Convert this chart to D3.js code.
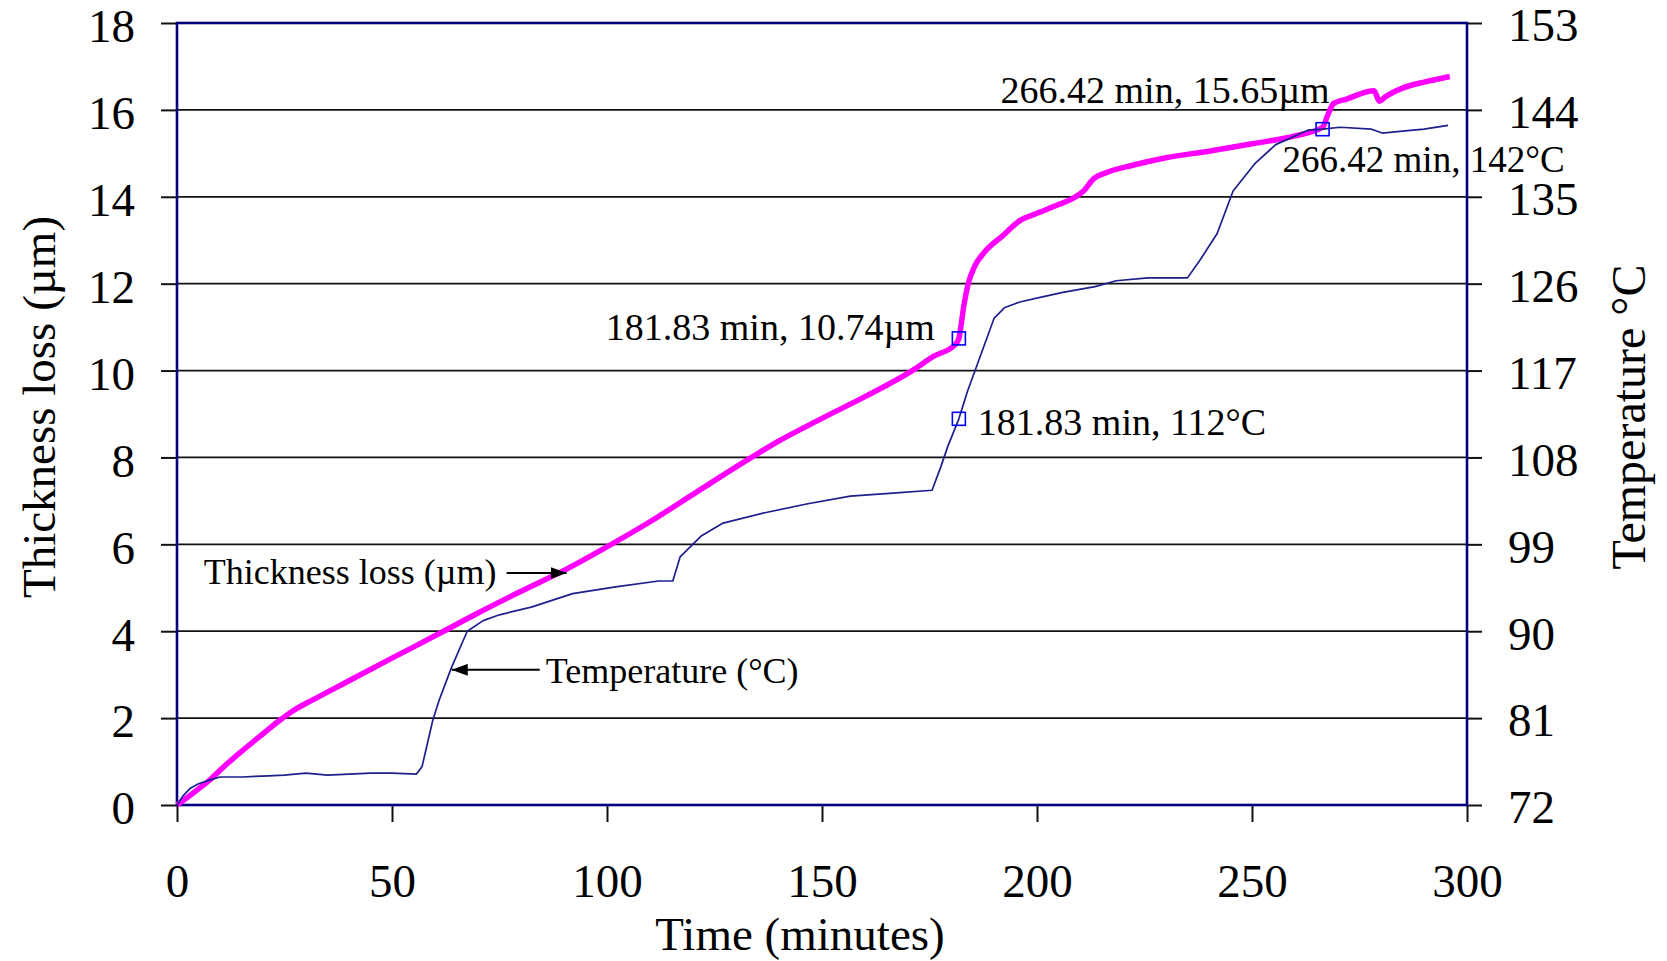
<!DOCTYPE html>
<html>
<head>
<meta charset="utf-8">
<script src="https://cdn.jsdelivr.net/npm/d3@7/dist/d3.min.js"></script>
<style>
  body { margin: 0; background: #fff; }
  svg text { font-family: "Liberation Serif", "Times New Roman", serif; fill: #000; }
</style>
</head>
<body>
<div id="content"></div>
<script>
(function(){

  //////////////////////////////////////////////////////////////
  //////////////////////// data ////////////////////////////////
  //////////////////////////////////////////////////////////////

  // thickness loss (um) vs time (min)
  var thickTime = [0, 3, 5, 7.7, 10, 14.6, 20, 23.9, 27, 31.6, 40, 50, 62, 70, 80, 90, 101, 110, 120,
                   133.6, 140, 150, 160, 171, 176, 181, 181.83, 183, 184, 185.5, 188, 192, 196, 200,
                   205, 209, 211, 213, 216, 222, 230, 240, 250, 260, 266.42, 267.5, 269, 272, 278.4,
                   279.6, 281, 285, 290, 296];
  var thickLoss = [0, 0.22, 0.37, 0.58, 0.8, 1.2, 1.64, 1.95, 2.17, 2.42, 2.86, 3.38, 4.0, 4.42, 4.92, 5.4, 6.0, 6.52, 7.15,
                   8.0, 8.38, 8.9, 9.4, 10.0, 10.33, 10.6, 10.74, 11.5, 12.0, 12.4, 12.75, 13.1, 13.45, 13.62,
                   13.82, 14.0, 14.15, 14.4, 14.55, 14.72, 14.9, 15.05, 15.22, 15.4, 15.6, 15.85, 16.15, 16.25, 16.44,
                   16.2, 16.3, 16.5, 16.64, 16.77];

  // temperature (C) vs time (min)
  var tempTime = [0, 1.5, 3, 5, 7.7, 10, 15, 20, 25, 30, 35, 40, 45, 50, 55.7, 57, 59.5, 61, 63.8, 67.5,
                  71.2, 75, 82.4, 92, 102, 112, 115.3, 117, 122, 127, 137, 146.7, 156.6, 166.5, 175.6,
                  177.6, 179.3, 181.83, 183.8, 186, 190, 192.4, 196, 201, 206, 213.5, 218.4, 225.8, 235,
                  238, 241.9, 245.6, 250.6, 255.5, 263, 266.42, 270.5, 277.8, 280.3, 285, 290, 295.6];
  var temperature = [72, 73, 73.7, 74.2, 74.6, 74.9, 74.9, 75.0, 75.1, 75.3, 75.1, 75.2, 75.3, 75.3, 75.2, 76, 80.8, 82.9, 86.2, 90.0,
                     91.1, 91.7, 92.5, 93.9, 94.6, 95.2, 95.2, 97.7, 99.9, 101.2, 102.3, 103.2, 104, 104.3, 104.6,
                     107, 109.2, 112, 114.8, 117.5, 122.4, 123.5, 124.1, 124.6, 125.1, 125.7, 126.3, 126.6, 126.6,
                     128.5, 131.2, 135.6, 138.4, 140.4, 141.9, 142.0, 142.2, 142.0, 141.6, 141.8, 142.0, 142.4];

  var timeTicks = [0, 50, 100, 150, 200, 250, 300];
  var thickTicks = [0, 2, 4, 6, 8, 10, 12, 14, 16, 18];
  var tempTicks = [72, 81, 90, 99, 108, 117, 126, 135, 144, 153];

  // marked points
  var markTime = [181.83, 181.83, 266.42, 266.42];
  var markValue = [10.74, 112, 15.65, 142];
  var markUnit = ["µm", "°C", "µm", "°C"];

  // series labels with arrow tips (time, value)
  var seriesLabels = ["Thickness loss (µm)", "Temperature (°C)"];
  var arrowTime = [90.6, 63.9];
  var arrowValue = [5.34, 86];

  //////////////////////////////////////////////////////////////
  //////////////////////// chart ///////////////////////////////
  //////////////////////////////////////////////////////////////

  var margin = {top: 23, right: 200, bottom: 156, left: 177},
      width = 1667 - margin.left - margin.right,
      height = 961 - margin.top - margin.bottom;

  var svg = d3.select("#content").append("svg")
      .attr("width", 1667)
      .attr("height", 961);

  svg.append("rect")
      .attr("width", 1667)
      .attr("height", 961)
      .style("fill", "#fff");

  var defs = svg.append("defs");
  defs.append("marker")
      .attr("id", "arrow")
      .attr("markerUnits", "userSpaceOnUse")
      .attr("markerWidth", 16)
      .attr("markerHeight", 12)
      .attr("refX", 16)
      .attr("refY", 6)
      .attr("orient", "auto")
    .append("path")
      .attr("d", "M0,0 L16,6 L0,12 Z")
      .style("fill", "#000");

  var g = svg.append("g")
      .attr("transform", "translate(" + margin.left + "," + margin.top + ")");

  var x = d3.scaleLinear().domain([0, 300]).range([0, width]);
  var y = d3.scaleLinear().domain([0, 18]).range([height, 0]);
  var yT = d3.scaleLinear().domain([72, 153]).range([height, 0]);

  // gridlines
  g.selectAll(".grid")
      .data(thickTicks.slice(1))
    .enter().append("line")
      .attr("class", "grid")
      .attr("x1", 0)
      .attr("x2", width)
      .attr("y1", function(d) { return y(d); })
      .attr("y2", function(d) { return y(d); })
      .style("stroke", "#111")
      .style("stroke-width", "1.8px");

  // axes
  var left = g.append("g")
      .call(d3.axisLeft(y).tickValues(thickTicks).tickSize(16).tickPadding(26));
  var right = g.append("g")
      .attr("transform", "translate(" + width + ",0)")
      .call(d3.axisRight(yT).tickValues(tempTicks).tickSize(15).tickPadding(26));
  var bottom = g.append("g")
      .attr("transform", "translate(0," + height + ")")
      .call(d3.axisBottom(x).tickValues(timeTicks).tickSize(17));

  [left, right, bottom].forEach(function(a) {
    a.select(".domain").remove();
    a.selectAll(".tick line").style("stroke", "#111").style("stroke-width", "2px");
    a.selectAll(".tick text")
        .style("font-size", "47px")
        .style("font-family", "'Liberation Serif', serif")
        .style("fill", "#000");
  });
  left.selectAll(".tick text").attr("dy", "0.4em");
  right.selectAll(".tick text").attr("dy", "0.38em");
  bottom.selectAll(".tick text").attr("y", 92).attr("dy", 0);

  // frame
  g.append("rect")
      .attr("width", width)
      .attr("height", height)
      .style("fill", "none")
      .style("stroke", "#000080")
      .style("stroke-width", "2.6px");

  // lines
  var thickLine = d3.line()
      .curve(d3.curveMonotoneX)
      .x(function(d, i) { return x(thickTime[i]); })
      .y(function(d) { return y(d); });
  var tempLine = d3.line()
      .x(function(d, i) { return x(tempTime[i]); })
      .y(function(d) { return yT(d); });

  g.append("path")
      .datum(thickLoss)
      .attr("d", thickLine)
      .style("fill", "none")
      .style("stroke", "#ff00ff")
      .style("stroke-width", "5.5px")
      .style("stroke-linejoin", "round");

  g.append("path")
      .datum(temperature)
      .attr("d", tempLine)
      .style("fill", "none")
      .style("stroke", "#1e1e8e")
      .style("stroke-width", "1.7px")
      .style("stroke-linejoin", "round");

  // marked points and their labels
  function markY(i) {
    return markUnit[i] == "µm" ? y(markValue[i]) : yT(markValue[i]);
  }
  var labelPos = [
    {dx: -24, dy: 2, anchor: "end"},
    {dx: 19, dy: 16, anchor: "start"},
    {dx: 7, dy: -22, anchor: "end"},
    {dx: -40, dy: 43, anchor: "start"}
  ];

  g.selectAll(".mark")
      .data([0, 1, 3])
    .enter().append("rect")
      .attr("class", "mark")
      .attr("x", function(i) { return x(markTime[i]) - 6.5; })
      .attr("y", function(i) { return markY(i) - 6.5; })
      .attr("width", 13)
      .attr("height", 13)
      .style("fill", "none")
      .style("stroke", "#0000ff")
      .style("stroke-width", "1.6px");

  g.selectAll(".markLabel")
      .data(markTime)
    .enter().append("text")
      .attr("class", "markLabel")
      .attr("x", function(d, i) { return x(d) + labelPos[i].dx; })
      .attr("y", function(d, i) { return markY(i) + labelPos[i].dy; })
      .attr("text-anchor", function(d, i) { return labelPos[i].anchor; })
      .style("font-size", function(d, i) { return i == 3 ? "37px" : "38px"; })
      .text(function(d, i) { return d.toFixed(2) + " min, " + markValue[i] + markUnit[i]; });

  // series labels with arrows
  var tipX = [x(arrowTime[0]), x(arrowTime[1])];
  var tipY = [y(arrowValue[0]), yT(arrowValue[1])];

  g.append("line")
      .attr("x1", tipX[0] - 60).attr("y1", tipY[0])
      .attr("x2", tipX[0]).attr("y2", tipY[0])
      .style("stroke", "#000").style("stroke-width", "2px")
      .attr("marker-end", "url(#arrow)");
  g.append("text")
      .attr("x", tipX[0] - 70)
      .attr("y", tipY[0] + 11)
      .attr("text-anchor", "end")
      .style("font-size", "36px")
      .text(seriesLabels[0]);

  g.append("line")
      .attr("x1", tipX[1] + 88).attr("y1", tipY[1])
      .attr("x2", tipX[1]).attr("y2", tipY[1])
      .style("stroke", "#000").style("stroke-width", "2px")
      .attr("marker-end", "url(#arrow)");
  g.append("text")
      .attr("x", tipX[1] + 94)
      .attr("y", tipY[1] + 13)
      .style("font-size", "36px")
      .text(seriesLabels[1]);

  // axis titles
  svg.append("text")
      .attr("x", margin.left + width / 2 - 22)
      .attr("y", 950)
      .attr("text-anchor", "middle")
      .style("font-size", "47px")
      .text("Time (minutes)");

  svg.append("text")
      .attr("transform", "translate(55,407) rotate(-90)")
      .attr("text-anchor", "middle")
      .style("font-size", "47px")
      .text("Thickness loss (µm)");

  svg.append("text")
      .attr("transform", "translate(1645,417) rotate(-90)")
      .attr("text-anchor", "middle")
      .style("font-size", "48px")
      .text("Temperature °C");

})();
</script>
</body>
</html>
